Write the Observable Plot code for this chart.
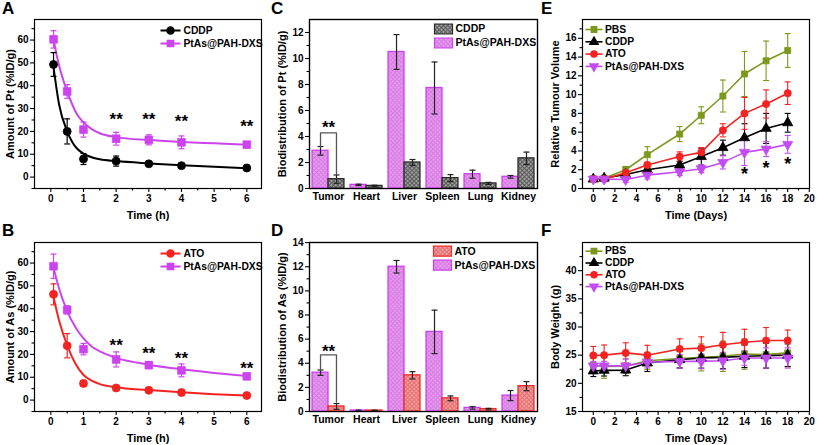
<!DOCTYPE html>
<html><head><meta charset="utf-8">
<script src="https://cdn.jsdelivr.net/npm/d3@7"></script>
<script src="https://cdn.jsdelivr.net/npm/@observablehq/plot@0.6"></script>
<style>
body{margin:0;background:#fff;}
#fig{position:relative;width:817px;height:445px;overflow:hidden;font-family:"Liberation Sans",Arial,sans-serif;}
#fig svg{position:absolute;overflow:visible;}
.plbl{position:absolute;font:bold 17px/17px "Liberation Sans",Arial,sans-serif;color:#000;}
</style></head>
<body>
<svg width="0" height="0" style="position:absolute">
  <defs>
    <pattern id="hPink" width="3" height="3" patternUnits="userSpaceOnUse" patternTransform="rotate(45)">
      <rect width="3" height="3" fill="#e89af0"/>
      <rect width="1" height="3" fill="#d77ee2"/>
      <rect width="3" height="1" fill="#d77ee2"/>
    </pattern>
    <pattern id="hGray" width="3" height="3" patternUnits="userSpaceOnUse" patternTransform="rotate(45)">
      <rect width="3" height="3" fill="#a0a0a0"/>
      <rect width="1" height="3" fill="#5a5a5a"/>
      <rect width="3" height="1" fill="#5a5a5a"/>
    </pattern>
    <pattern id="hRed" width="3" height="3" patternUnits="userSpaceOnUse" patternTransform="rotate(45)">
      <rect width="3" height="3" fill="#f4a0a0"/>
      <rect width="1" height="3" fill="#e57070"/>
      <rect width="3" height="1" fill="#e57070"/>
    </pattern>
  </defs>
</svg>
<div id="fig"></div>
<script>
// ---------- DATA ----------
// Panel A: Pt pharmacokinetics
const ptTimes = [0.083, 0.5, 1, 2, 3, 4, 6];
const ptCDDP = [49.3, 20, 7.9, 7.0, 5.8, 5.0, 4.0];
const ptCDDPErr = [5.2, 5.5, 2.4, 2.2, 1.0, 0.8, 1.1];
const ptPtAs = [60.3, 37.5, 20.8, 16.8, 16.3, 15.2, 14.2];
const ptPtAsErr = [3.8, 3.0, 3.3, 2.8, 2.2, 2.8, 1.3];
const ptFitT = [0.083, 0.25, 0.5, 0.65, 0.8, 1, 1.25, 1.5, 2, 3, 4, 5, 6];
const ptFitCDDP = [48, 32, 20, 15.5, 12.5, 10.3, 8.7, 7.8, 7.0, 6.0, 5.2, 4.5, 3.9];
const ptFitPtAs = [60, 49, 37.5, 32, 27.5, 24, 21, 19.2, 17.5, 16.2, 15.4, 14.8, 14.2];
const ptStarT = [2, 3, 4, 6];
const ptStarY = [26.8, 26.8, 26, 23.8];

// Panel B: As pharmacokinetics
const asTimes = [0.083, 0.5, 1, 2, 3, 4, 6];
const asATO = [46.3, 23.8, 7.3, 5.3, 4.3, 3.3, 2.0];
const asATOErr = [4.6, 5.3, 1.3, 0.8, 0.8, 0.8, 0.7];
const asPtAs = [58.6, 39.5, 22.3, 17.8, 15.3, 13.0, 10.4];
const asPtAsErr = [5.3, 1.8, 2.5, 3.3, 1.5, 2.8, 0.8];
const asFitT = [0.083, 0.25, 0.5, 0.75, 1, 1.25, 1.5, 2, 3, 4, 5, 6];
const asFitATO = [45, 35, 24, 16, 11, 8.5, 7.0, 5.6, 4.4, 3.4, 2.6, 2.0];
const asFitPtAs = [58, 49, 39, 32, 27, 23.5, 21.3, 18.5, 15.5, 13.5, 11.9, 10.5];
const asStarT = [2, 3, 4, 6];
const asStarY = [25.7, 22, 19.9, 15.4];

// Panels C/D: biodistribution
const organs = ["Tumor", "Heart", "Liver", "Spleen", "Lung", "Kidney"];
const ptBioPtAs = [2.9, 0.28, 10.5, 7.73, 1.1, 0.9];
const ptBioPtAsErr = [0.33, 0.05, 1.34, 2.0, 0.31, 0.1];
const ptBioCDDP = [0.72, 0.2, 2.0, 0.8, 0.39, 2.32];
const ptBioCDDPErr = [0.32, 0.05, 0.23, 0.27, 0.08, 0.48];
const ptBracket = [3.2, 4.28, 1.1];   // left leg bottom, top, right leg bottom
const ptBracketStar = 5.03;
const asBioPtAs = [3.22, 0.08, 12.0, 6.6, 0.3, 1.32];
const asBioPtAsErr = [0.22, 0.03, 0.52, 1.8, 0.1, 0.42];
const asBioATO = [0.42, 0.08, 3.0, 1.09, 0.2, 2.1];
const asBioATOErr = [0.24, 0.03, 0.3, 0.2, 0.06, 0.38];
const asBracket = [3.42, 4.7, 0.78];
const asBracketStar = 5.3;

// Panels E/F: tumour volume & body weight
const days = [0, 1, 3, 5, 8, 10, 12, 14, 16, 18];
const volPBS = [1.03, 1.1, 2.0, 3.6, 5.8, 7.8, 9.85, 12.2, 13.6, 14.7];
const volPBSErr = [0.1, 0.1, 0.35, 0.85, 0.8, 0.9, 1.7, 2.4, 2.1, 1.8];
const volCDDP = [1.0, 1.1, 1.5, 2.0, 2.5, 3.4, 4.35, 5.4, 6.4, 7.0];
const volCDDPErr = [0.1, 0.1, 0.3, 0.3, 0.4, 0.9, 0.8, 1.5, 1.6, 1.0];
const volATO = [1.0, 1.0, 1.67, 2.5, 3.4, 3.85, 6.2, 8.0, 9.0, 10.15];
const volATOErr = [0.1, 0.1, 0.3, 0.3, 0.5, 0.5, 0.7, 1.7, 1.5, 1.2];
const volPtAs = [1.0, 1.0, 0.96, 1.42, 1.78, 2.1, 2.78, 3.85, 4.2, 4.7];
const volPtAsErr = [0.1, 0.1, 0.3, 0.4, 0.4, 0.4, 0.7, 1.4, 0.8, 0.95];
const volStarT = [14, 16, 18];
const volStarY = [1.92, 2.56, 3.0];
const bwPBS = [23.2, 23.0, 23.05, 24.0, 24.4, 24.6, 24.8, 25.2, 25.1, 25.4];
const bwPBSErr = [1.2, 2.1, 1.3, 1.5, 1.6, 2.4, 2.7, 2.7, 2.4, 2.5];
const bwCDDP = [22.2, 22.3, 22.35, 23.6, 24.2, 24.5, 24.6, 24.8, 24.9, 25.0];
const bwCDDPErr = [1.0, 1.0, 1.0, 1.5, 1.5, 1.8, 2.0, 2.0, 2.2, 2.0];
const bwATO = [24.95, 25.0, 25.4, 25.0, 26.1, 26.25, 26.85, 27.3, 27.6, 27.6];
const bwATOErr = [1.6, 1.8, 1.8, 1.75, 1.8, 2.0, 2.2, 2.3, 2.3, 1.85];
const bwPtAs = [23.1, 23.1, 23.1, 23.75, 23.9, 23.9, 24.0, 24.5, 24.5, 24.5];
const bwPtAsErr = [0.8, 0.8, 1.2, 1.0, 1.2, 1.3, 1.5, 1.3, 1.8, 1.8];

// Tick values
const pkXMajor = [0, 1, 2, 3, 4, 5, 6];
const pkXMinor = [0.5, 1.5, 2.5, 3.5, 4.5, 5.5];
const pkYMajor = [0, 10, 20, 30, 40, 50, 60];
const pkYMinor = [-5, 5, 15, 25, 35, 45, 55, 65];
const bioYMajorC = [0, 2, 4, 6, 8, 10, 12];
const bioYMinorC = [1, 3, 5, 7, 9, 11];
const bioYMajorD = [0, 2, 4, 6, 8, 10, 12, 14];
const bioYMinorD = [1, 3, 5, 7, 9, 11, 13];
const dayMajor = [0, 2, 4, 6, 8, 10, 12, 14, 16, 18, 20];
const dayMinor = [1, 3, 5, 7, 9, 11, 13, 15, 17, 19];
const volYMajor = [0, 2, 4, 6, 8, 10, 12, 14, 16];
const volYMinor = [1, 3, 5, 7, 9, 11, 13, 15, 17];
const bwYMajor = [15, 20, 25, 30, 35, 40];
const bwYMinor = [17.5, 22.5, 27.5, 32.5, 37.5, 42.5];

// ---------- STYLE ----------
const SANS = '"Liberation Sans", Arial, sans-serif';
const MAG = "#cc44ee", MAG2 = "#c24cf2", RED = "#f52222", BLK = "#000000", OLIVE = "#7b981c";
const capSym = {draw(c) { c.moveTo(-3, 0); c.lineTo(3, 0); }};
const legLine = {draw(c) { c.moveTo(-10, 0); c.lineTo(10, 0); }};
const legLineS = {draw(c) { c.moveTo(-8.5, 0); c.lineTo(8.5, 0); }};
const swatch = {draw(c) { c.rect(-9, -5, 18, 10); }};
const fmtInt = d3.format("d");

const fig = document.getElementById("fig");
function place(svg, left, top) {
  svg.style.left = left + "px"; svg.style.top = top + "px"; fig.appendChild(svg);
}
function letter(t, left, top) {
  const d = document.createElement("div"); d.className = "plbl"; d.textContent = t;
  d.style.left = left + "px"; d.style.top = top + "px"; fig.appendChild(d);
}
function axes(o) {
  const m = [
    Plot.axisX({ticks: o.xMajor, tickSize: o.xTickSize ?? 4, tickPadding: o.xPad ?? 2, tickFormat: o.xFormat ?? fmtInt, label: null, strokeWidth: 1.1, fontSize: o.xFont ?? 10}),
    Plot.axisY({ticks: o.yMajor, tickSize: 4, tickPadding: 2, tickFormat: fmtInt, label: null, strokeWidth: 1.1}),
    Plot.axisY({ticks: o.yMinor, tickSize: 2.5, tickFormat: () => "", label: null, strokeWidth: 1.1})
  ];
  if (o.xMinor) m.push(Plot.axisX({ticks: o.xMinor, tickSize: 2.5, tickFormat: () => "", label: null, strokeWidth: 1.1}));
  if (o.xTitle) m.push(Plot.text([o.xTitle], {text: d => d, frameAnchor: "bottom", dy: 27, fontSize: 11, textAnchor: "middle", lineAnchor: "middle"}));
  m.push(Plot.text([o.yTitle], {text: d => d, frameAnchor: "left", dx: o.ytdx, rotate: -90, fontSize: 11, textAnchor: "middle", lineAnchor: "middle"}));
  m.push(Plot.frame({stroke: "#000", strokeWidth: 1.2}));
  return m;
}
function makePlot(o) {
  return Plot.plot({
    width: o.width, height: 222,
    marginLeft: o.ml, marginRight: o.mr, marginTop: 19, marginBottom: 34,
    style: {fontFamily: SANS, fontWeight: "bold", fontSize: "10px", background: "transparent", overflow: "visible", color: "#000"},
    x: o.x, y: o.y,
    marks: o.marks
  });
}
function table(xs, vs, es) { return xs.map((x, i) => ({x, v: vs[i], e: es[i]})); }
function errMarks(tbl, col, sw = 1.2) {
  return [
    Plot.ruleX(tbl, {x: "x", y1: d => d.v - d.e, y2: d => d.v + d.e, stroke: col, strokeWidth: sw}),
    Plot.dot(tbl, {x: "x", y: d => d.v + d.e, symbol: capSym, stroke: col, fill: "none", strokeWidth: sw}),
    Plot.dot(tbl, {x: "x", y: d => d.v - d.e, symbol: capSym, stroke: col, fill: "none", strokeWidth: sw})
  ];
}
function ptsMarks(tbl, col, symbol, r, rotate = 0) {
  return [Plot.dot(tbl, {x: "x", y: "v", symbol, r, fill: col, stroke: col, strokeWidth: 0.8, rotate})];
}
function legendLine(items, dx, dy0, step, seg, textDx) {
  const m = [];
  items.forEach((it, i) => {
    const dy = dy0 + i * step;
    m.push(Plot.dot([0], {frameAnchor: "top-left", dx, dy, symbol: seg, stroke: it.col, fill: "none", strokeWidth: it.sw ?? 2}));
    m.push(Plot.dot([0], {frameAnchor: "top-left", dx, dy, symbol: it.sym, r: it.r, fill: it.col, stroke: it.col, rotate: it.rot ?? 0}));
    m.push(Plot.text([it.name], {text: d => d, frameAnchor: "top-left", dx: dx + textDx, dy, textAnchor: "start", fontSize: 10.3, lineAnchor: "middle"}));
  });
  return m;
}
function legendBox(items, dx, dy0, step) {
  const m = [];
  items.forEach((it, i) => {
    const dy = dy0 + i * step;
    m.push(Plot.dot([0], {frameAnchor: "top-left", dx, dy, symbol: swatch, fill: it.fill, stroke: it.stroke, strokeWidth: 1.2}));
    m.push(Plot.text([it.name], {text: d => d, frameAnchor: "top-left", dx: dx + 12, dy, textAnchor: "start", fontSize: 10.5, lineAnchor: "middle"}));
  });
  return m;
}

// ---------- PANELS A / B ----------
function pkPanel(o) {
  const t1 = table(o.t, o.v1, o.e1), t2 = table(o.t, o.v2, o.e2);
  const f1 = o.fitT.map((x, i) => ({x, v: o.fit1[i]}));
  const f2 = o.fitT.map((x, i) => ({x, v: o.fit2[i]}));
  const stars = o.starT.map((x, i) => ({x, v: o.starY[i]}));
  return makePlot({
    width: 272, ml: 34, mr: 11,
    x: {domain: [-0.5, 6.45]}, y: {domain: [-5, 69]},
    marks: [
      ...axes({xMajor: pkXMajor, xMinor: pkXMinor, yMajor: pkYMajor, yMinor: pkYMinor, xTitle: "Time (h)", yTitle: o.yTitle, ytdx: -24}),
      Plot.line(f1, {x: "x", y: "v", stroke: o.col1, strokeWidth: 2, curve: "monotone-x"}),
      Plot.line(f2, {x: "x", y: "v", stroke: MAG, strokeWidth: 2, curve: "monotone-x"}),
      ...errMarks(t1, o.col1), ...errMarks(t2, MAG),
      ...ptsMarks(t1, o.col1, "circle", 4),
      ...ptsMarks(t2, MAG, "square", 4.3),
      Plot.text(stars, {x: "x", y: "v", text: () => "**", fontSize: 17, dy: 4}),
      ...legendLine([
        {name: o.name1, col: o.col1, sym: "circle", r: 3.5},
        {name: "PtAs@PAH-DXS", col: MAG, sym: "square", r: 3.5}
      ], 136, 11, 13, legLine, 13)
    ]
  });
}
place(pkPanel({t: ptTimes, v1: ptCDDP, e1: ptCDDPErr, v2: ptPtAs, e2: ptPtAsErr, fitT: ptFitT, fit1: ptFitCDDP, fit2: ptFitPtAs,
  starT: ptStarT, starY: ptStarY, col1: BLK, name1: "CDDP", yTitle: "Amount of Pt (%ID/g)"}), 0, 0);
place(pkPanel({t: asTimes, v1: asATO, e1: asATOErr, v2: asPtAs, e2: asPtAsErr, fitT: asFitT, fit1: asFitATO, fit2: asFitPtAs,
  starT: asStarT, starY: asStarY, col1: RED, name1: "ATO", yTitle: "Amount of As (%ID/g)"}), 0, 223);

// ---------- PANELS C / D ----------
const barW = 0.42;
const PINK_FILL = "url(#hPink)", PINK_STROKE = "#cc40ee";
function bioPanel(o) {
  const rows = organs.flatMap((org, i) => [
    {s: 0, x1: i - barW, x2: i, v: o.v1[i], e: o.e1[i]},
    {s: 1, x1: i, x2: i + barW, v: o.v2[i], e: o.e2[i]}
  ]).map(d => ({...d, x: (d.x1 + d.x2) / 2}));
  const a = rows.filter(d => d.s === 0), b = rows.filter(d => d.s === 1);
  const bx = [-barW / 2, barW / 2];
  const bracket = [{x: bx[0], v: o.br[0]}, {x: bx[0], v: o.br[1]}, {x: bx[1], v: o.br[1]}, {x: bx[1], v: o.br[2]}];
  return makePlot({
    width: 270, ml: 37, mr: 5,
    x: {domain: [-0.5, 5.5]}, y: {domain: o.yDomain},
    marks: [
      ...axes({xMajor: d3.range(organs.length), xFormat: i => organs[i], xTickSize: 0, xPad: 4, xFont: 10.5,
        yMajor: o.yMajor, yMinor: o.yMinor, xTitle: null, yTitle: o.yTitle, ytdx: -27}),
      Plot.rect(a, {x1: "x1", x2: "x2", y1: 0, y2: "v", fill: PINK_FILL, stroke: PINK_STROKE, strokeWidth: 1.3}),
      Plot.rect(b, {x1: "x1", x2: "x2", y1: 0, y2: "v", fill: o.fill2, stroke: o.stroke2, strokeWidth: 1.3}),
      ...errMarks(a, "#222", 1.2), ...errMarks(b, "#222", 1.2),
      Plot.line(bracket, {x: "x", y: "v", stroke: "#555", strokeWidth: 1.3}),
      Plot.text([0], {x: 0, y: o.star, text: () => "**", fontSize: 17, dy: 4}),
      ...legendBox([
        {name: o.name2, fill: o.fill2, stroke: o.stroke2},
        {name: "PtAs@PAH-DXS", fill: PINK_FILL, stroke: PINK_STROKE}
      ], o.legDx, o.legDy, 14),
      Plot.frame({stroke: "#000", strokeWidth: 1.2})
    ]
  });
}
place(bioPanel({v1: ptBioPtAs, e1: ptBioPtAsErr, v2: ptBioCDDP, e2: ptBioCDDPErr, br: ptBracket, star: ptBracketStar,
  yDomain: [0, 13], yMajor: bioYMajorC, yMinor: bioYMinorC, yTitle: "Biodistribution of Pt (%ID/g)",
  name2: "CDDP", fill2: "url(#hGray)", stroke2: "#2a2a2a", legDx: 134, legDy: 9.5}), 272, 0);
place(bioPanel({v1: asBioPtAs, e1: asBioPtAsErr, v2: asBioATO, e2: asBioATOErr, br: asBracket, star: asBracketStar,
  yDomain: [0, 14.01], yMajor: bioYMajorD, yMinor: bioYMinorD, yTitle: "Biodistribution of As (%ID/g)",
  name2: "ATO", fill2: "url(#hRed)", stroke2: "#ee2a2a", legDx: 133, legDy: 8.7}), 272, 223);

// ---------- PANELS E / F ----------
const groups = [
  {name: "PBS", col: OLIVE, sym: "square", r: 3.4, rot: 0},
  {name: "CDDP", col: BLK, sym: "triangle", r: 3.8, rot: 0},
  {name: "ATO", col: RED, sym: "circle", r: 3.6, rot: 0},
  {name: "PtAs@PAH-DXS", col: MAG2, sym: "triangle", r: 3.8, rot: 180}
];
function timePanel(o) {
  const marks = [...axes({xMajor: dayMajor, xMinor: dayMinor, yMajor: o.yMajor, yMinor: o.yMinor,
    xTitle: "Time (Days)", yTitle: o.yTitle, ytdx: -27})];
  const tbls = o.series.map(s => table(days, s[0], s[1]));
  groups.forEach((g, i) => marks.push(Plot.line(tbls[i], {x: "x", y: "v", stroke: g.col, strokeWidth: 1.6})));
  groups.forEach((g, i) => marks.push(...errMarks(tbls[i], g.col, 1.1)));
  groups.forEach((g, i) => marks.push(...ptsMarks(tbls[i], g.col, g.sym, g.r, g.rot)));
  if (o.starT) marks.push(Plot.text(o.starT.map((x, i) => ({x, v: o.starY[i]})), {x: "x", y: "v", text: () => "*", fontSize: 18, dy: 4}));
  marks.push(...legendLine(groups.map(g => ({name: g.name, col: g.col, sym: g.sym, r: 3, rot: g.rot, sw: 1.6})),
    11.5, o.legDy, o.legStep, legLineS, 11));
  return makePlot({width: 275, ml: 40, mr: 8, x: {domain: [-1, 20.02]}, y: {domain: o.yDomain}, marks});
}
place(timePanel({series: [[volPBS, volPBSErr], [volCDDP, volCDDPErr], [volATO, volATOErr], [volPtAs, volPtAsErr]],
  yDomain: [0, 18], yMajor: volYMajor, yMinor: volYMinor, yTitle: "Relative Tumour Volume",
  starT: volStarT, starY: volStarY, legDy: 10, legStep: 12.3}), 542, 0);
place(timePanel({series: [[bwPBS, bwPBSErr], [bwCDDP, bwCDDPErr], [bwATO, bwATOErr], [bwPtAs, bwPtAsErr]],
  yDomain: [15, 45], yMajor: bwYMajor, yMinor: bwYMinor, yTitle: "Body Weight (g)",
  legDy: 8.7, legStep: 11.8}), 542, 223);

// panel letters
letter("A", 2, 0); letter("C", 271, 0); letter("E", 541, 0);
letter("B", 2, 222); letter("D", 271, 222); letter("F", 541, 222);
</script>
</body></html>
